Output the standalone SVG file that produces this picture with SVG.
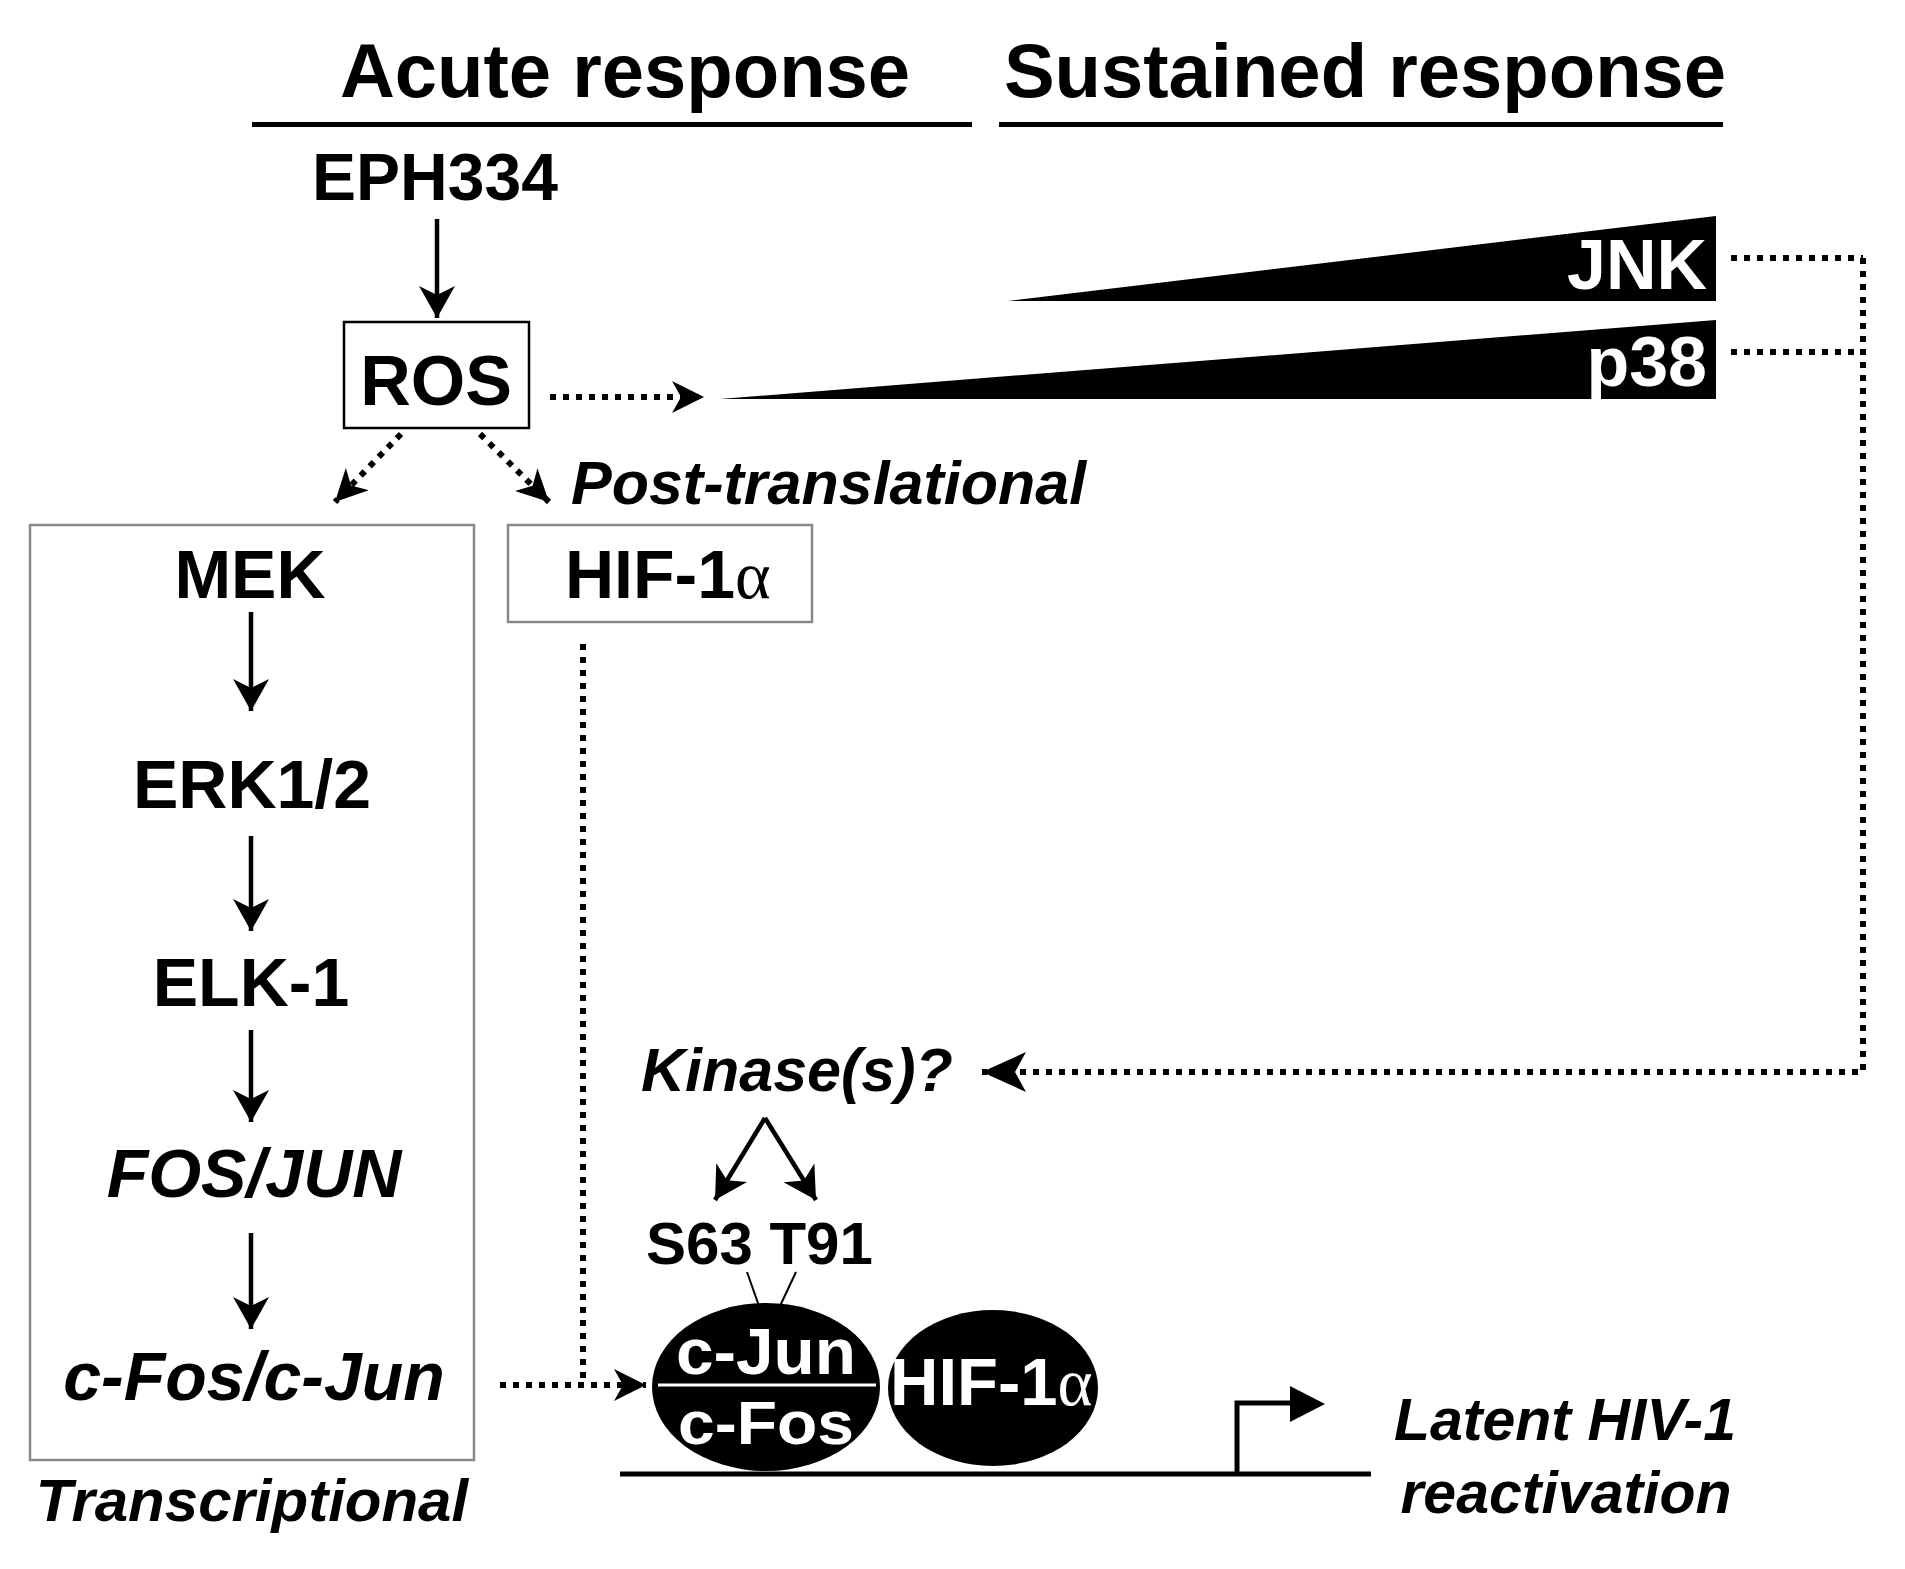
<svg xmlns="http://www.w3.org/2000/svg" width="1905" height="1569" viewBox="0 0 1905 1569">
<style>
text{font-family:"Liberation Sans",Arial,sans-serif;font-weight:bold;fill:#000}
.it{font-style:italic}
.w{fill:#fff}
.solid{stroke:#000;stroke-width:4.5;fill:none}
.dot{stroke:#000;stroke-width:6;fill:none;stroke-dasharray:6 7}
.box{fill:#fff;stroke:#888;stroke-width:2.5}
</style>
<defs>
<marker id="ah" markerUnits="userSpaceOnUse" viewBox="0 0 32 36" refX="32" refY="18" markerWidth="32" markerHeight="36" orient="auto">
<path d="M0,0 L32,18 L0,36 L9,18 Z" fill="#000"/>
</marker>
<marker id="ahd" markerUnits="userSpaceOnUse" viewBox="0 0 32 32" refX="32" refY="16" markerWidth="32" markerHeight="32" orient="auto">
<path d="M0,0 L32,16 L0,32 L9,16 Z" fill="#000"/>
</marker>
<marker id="ahb" markerUnits="userSpaceOnUse" viewBox="0 0 44 40" refX="44" refY="20" markerWidth="44" markerHeight="40" orient="auto">
<path d="M0,0 L44,20 L0,40 L11,20 Z" fill="#000"/>
</marker>
</defs>

<g id="headers">
<text x="625" y="97" font-size="76" text-anchor="middle">Acute response</text>
<text x="1365" y="97" font-size="76" text-anchor="middle">Sustained response</text>
<rect x="252" y="122" width="720" height="5" fill="#000"/>
<rect x="999" y="122" width="724" height="5" fill="#000"/>
</g>

<g id="eph334"><text x="435" y="200" font-size="66" text-anchor="middle">EPH334</text></g>
<g id="ros">
<rect x="344" y="322" width="185" height="106" fill="#fff" stroke="#000" stroke-width="2.5"/>
<text x="436" y="405" font-size="70" text-anchor="middle">ROS</text>
</g>

<g id="jnk">
<polygon points="1008,301 1716,216 1716,301" fill="#000"/>
<text x="1707" y="289" font-size="70" text-anchor="end" class="w">JNK</text>
</g>
<g id="p38">
<polygon points="720,399 1716,320 1716,399" fill="#000"/>
<text x="1707" y="386" font-size="70" text-anchor="end" class="w">p38</text>
</g>

<g id="posttrans-label"><text x="571" y="504" font-size="61" class="it">Post-translational</text></g>

<g id="hif-box">
<rect x="508" y="525" width="304" height="97" class="box" stroke-width="2"/>
<text x="565" y="598" font-size="68">HIF-1<tspan font-family="'Liberation Serif',serif" font-weight="normal">α</tspan></text>
</g>

<g id="transcriptional-box">
<rect x="30" y="525" width="444" height="935" class="box"/>
<text x="250" y="598" font-size="68" text-anchor="middle">MEK</text>
<text x="252" y="808" font-size="68" text-anchor="middle">ERK1/2</text>
<text x="251" y="1006" font-size="68" text-anchor="middle">ELK-1</text>
<text x="254" y="1197" font-size="68" text-anchor="middle" class="it">FOS/JUN</text>
<text x="254" y="1400" font-size="68" text-anchor="middle" class="it">c-Fos/c-Jun</text>
<text x="252" y="1521" font-size="60" text-anchor="middle" class="it">Transcriptional</text>
</g>

<g id="kinase"><text x="641" y="1091" font-size="61" class="it">Kinase(s)?</text></g>
<g id="sites"><text x="646" y="1264" font-size="60">S63 T91</text></g>

<g id="cjun-cfos">
<ellipse cx="766" cy="1387" rx="114" ry="84" fill="#000"/>
<line x1="658" y1="1385" x2="876" y2="1385" stroke="#fff" stroke-width="3"/>
<text x="766" y="1374" font-size="64" text-anchor="middle" class="w" textLength="180" lengthAdjust="spacingAndGlyphs">c-Jun</text>
<text x="766" y="1444" font-size="62" text-anchor="middle" class="w" textLength="176" lengthAdjust="spacingAndGlyphs">c-Fos</text>
</g>
<g id="hif-complex">
<ellipse cx="993" cy="1388" rx="105" ry="78" fill="#000"/>
<text x="890" y="1405" font-size="67" class="w">HIF-1<tspan font-family="'Liberation Serif',serif" font-weight="normal">α</tspan></text>
</g>

<g id="dna">
<line x1="620" y1="1474" x2="1371" y2="1474" stroke="#000" stroke-width="5"/>
<path d="M1237,1476 V1403 H1300" stroke="#000" stroke-width="5" fill="none"/>
<polygon points="1290,1386 1325,1404 1290,1422" fill="#000"/>
</g>
<g id="hiv-label">
<text x="1565" y="1440" font-size="59" text-anchor="middle" class="it">Latent HIV-1</text>
<text x="1566" y="1513" font-size="59" text-anchor="middle" class="it">reactivation</text>
</g>

<g id="connectors">
<line x1="437" y1="219" x2="437" y2="318" class="solid" marker-end="url(#ah)"/>
<line x1="550" y1="397" x2="704" y2="397" class="dot" marker-end="url(#ahd)"/>
<line x1="401" y1="434" x2="335" y2="502" class="dot" marker-end="url(#ahd)"/>
<line x1="480" y1="434" x2="549" y2="502" class="dot" marker-end="url(#ahd)"/>
<line x1="251" y1="612" x2="251" y2="711" class="solid" marker-end="url(#ah)"/>
<line x1="251" y1="836" x2="251" y2="931" class="solid" marker-end="url(#ah)"/>
<line x1="251" y1="1030" x2="251" y2="1122" class="solid" marker-end="url(#ah)"/>
<line x1="251" y1="1233" x2="251" y2="1329" class="solid" marker-end="url(#ah)"/>
<path d="M583,644 V1385" class="dot"/>
<path d="M500,1385 H646" class="dot" marker-end="url(#ahd)"/>
<path d="M1731,258 H1863" class="dot"/>
<path d="M1731,352 H1863" class="dot"/>
<path d="M1863,258 V1072 H982" class="dot" marker-end="url(#ahb)"/>
<line x1="765" y1="1118" x2="715" y2="1200" class="solid" marker-end="url(#ah)"/>
<line x1="765" y1="1118" x2="816" y2="1200" class="solid" marker-end="url(#ah)"/>
<line x1="747" y1="1272" x2="759" y2="1306" stroke="#000" stroke-width="2"/>
<line x1="796" y1="1272" x2="780" y2="1306" stroke="#000" stroke-width="2"/>
</g>
</svg>
